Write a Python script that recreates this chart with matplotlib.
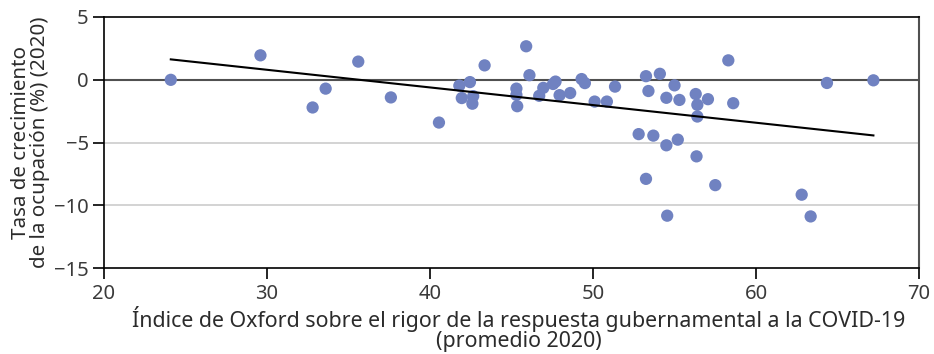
import matplotlib
matplotlib.use("Agg")
import matplotlib.pyplot as plt
import numpy as np

plt.rcParams['font.family'] = ['Noto Sans', 'DejaVu Sans']

# Índice de Oxford (promedio 2020) vs tasa de crecimiento de la ocupación (%)
oxford = [24.1, 29.6, 35.6, 33.6, 32.8, 37.6, 40.55, 41.8, 42.45, 41.95,
          42.65, 42.6, 43.35, 45.3, 45.3, 45.35, 45.9, 46.1, 46.95, 46.7,
          47.55, 47.7, 47.95, 48.6, 49.3, 49.5, 50.1, 50.85, 51.35, 53.25,
          53.4, 54.1, 54.5, 55.0, 55.3, 56.3, 56.4, 56.4, 57.05, 58.3,
          58.6, 64.35, 67.2, 52.8, 53.7, 54.5, 55.2, 56.35, 53.25, 57.5,
          54.55, 62.8, 63.35]
empleo = [0.0, 1.95, 1.45, -0.7, -2.2, -1.4, -3.4, -0.46, -0.18, -1.45,
          -1.3, -1.9, 1.15, -0.7, -1.2, -2.1, 2.67, 0.37, -0.64, -1.27,
          -0.33, -0.14, -1.22, -1.05, 0.06, -0.26, -1.73, -1.73, -0.54, 0.29,
          -0.89, 0.48, -1.43, -0.44, -1.6, -1.13, -1.99, -2.92, -1.54, 1.55,
          -1.86, -0.25, -0.04, -4.32, -4.44, -5.21, -4.76, -6.09, -7.88, -8.38,
          -10.81, -9.14, -10.87]

x_ticks = [20, 30, 40, 50, 60, 70]
y_ticks = [5, 0, -5, -10, -15]

fig = plt.figure(figsize=(9.34, 3.54), dpi=100)
ax = fig.add_axes([0.1113, 0.242, 0.8727, 0.710])

# lineas de referencia
ax.axhline(0, color='#505050', lw=1.5, zorder=1)
for yv in [-5, -10]:
    ax.axhline(yv, color='#cccccc', lw=1.2, zorder=0)

ax.scatter(oxford, empleo, s=78, color='#7082c1', edgecolors='none', zorder=3)

# tendencia lineal
b, a = np.polyfit(oxford, empleo, 1)
xs = np.array([min(oxford), max(oxford)])
ax.plot(xs, a + b * xs, color='black', lw=1.5, zorder=4)

ax.set_xlim(20, 70)
ax.set_ylim(-15, 5)
ax.set_xticks(x_ticks)
ax.set_yticks(y_ticks)
ax.set_yticklabels([str(v).replace('-', '\u2212') for v in y_ticks])

for s in ['left', 'bottom', 'top']:
    ax.spines[s].set_color('black')
    ax.spines[s].set_linewidth(1.2)
ax.spines['right'].set_color('#505050')
ax.spines['right'].set_linewidth(1.5)

ax.tick_params(axis='both', labelsize=14.5, colors='#3a3a3a', length=8, width=1.2, pad=3)
ax.tick_params(axis='both', color='black')

ax.set_xlabel('Índice de Oxford sobre el rigor de la respuesta gubernamental a la COVID-19\n(promedio 2020)',
              fontsize=15.4, color='#2b2b2b', linespacing=0.92, labelpad=2)
ax.xaxis.label.set_x(0.509)
ax.set_ylabel('Tasa de crecimiento\nde la ocupación (%) (2020)',
              fontsize=14.8, color='#2b2b2b', linespacing=0.95, labelpad=3)

fig.savefig('out.png', dpi=100)
